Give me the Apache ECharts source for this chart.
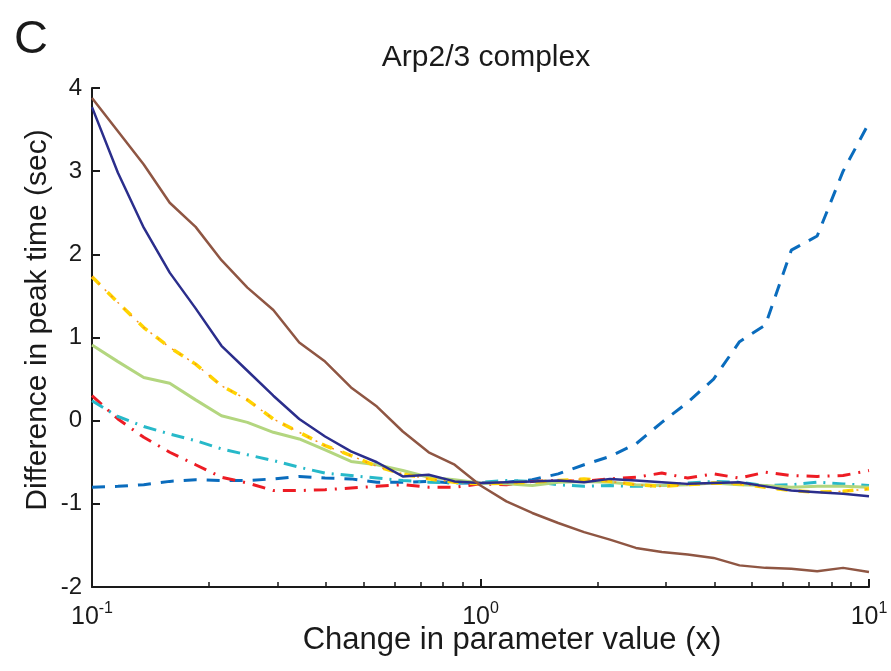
<!DOCTYPE html>
<html>
<head>
<meta charset="utf-8">
<script src="https://cdn.jsdelivr.net/npm/echarts@6/dist/echarts.min.js"></script>
<style>html,body{margin:0;padding:0;background:#fff}#c{width:891px;height:671px}</style>
</head>
<body>
<div id="c"></div>
<script>
// x: change in parameter value (log-spaced)
var xValues = [0.1,0.1166,0.1359,0.1585,0.1848,0.2154,0.2512,0.2929,0.3415,0.3981,0.4642,0.5412,0.6310,0.7356,0.8577,1.0,1.166,1.359,1.585,1.848,2.154,2.512,2.929,3.415,3.981,4.642,5.412,6.310,7.356,8.577,10];
var brown  = [3.88,3.48,3.08,2.62,2.33,1.93,1.60,1.33,0.94,0.71,0.40,0.17,-0.13,-0.38,-0.53,-0.78,-0.97,-1.11,-1.23,-1.34,-1.43,-1.53,-1.58,-1.61,-1.65,-1.74,-1.77,-1.78,-1.81,-1.77,-1.82];
var navy   = [3.77,2.98,2.32,1.78,1.35,0.90,0.60,0.30,0.02,-0.19,-0.37,-0.50,-0.67,-0.65,-0.73,-0.75,-0.74,-0.73,-0.72,-0.74,-0.70,-0.72,-0.74,-0.76,-0.75,-0.74,-0.79,-0.84,-0.86,-0.88,-0.91];
var yellow = [1.73,1.42,1.12,0.88,0.68,0.42,0.25,0.02,-0.14,-0.30,-0.42,-0.55,-0.64,-0.70,-0.74,-0.76,-0.75,-0.74,-0.72,-0.70,-0.73,-0.77,-0.79,-0.77,-0.75,-0.76,-0.80,-0.84,-0.86,-0.85,-0.82];
var green  = [0.91,0.71,0.52,0.45,0.25,0.06,-0.02,-0.14,-0.22,-0.35,-0.49,-0.53,-0.60,-0.68,-0.71,-0.75,-0.76,-0.78,-0.74,-0.73,-0.74,-0.77,-0.78,-0.77,-0.75,-0.77,-0.78,-0.80,-0.79,-0.79,-0.80];
var cyan   = [0.24,0.05,-0.07,-0.16,-0.24,-0.34,-0.41,-0.48,-0.56,-0.63,-0.66,-0.69,-0.72,-0.74,-0.75,-0.74,-0.72,-0.73,-0.77,-0.79,-0.78,-0.79,-0.78,-0.75,-0.73,-0.74,-0.78,-0.77,-0.74,-0.76,-0.78];
var red    = [0.30,0.02,-0.20,-0.38,-0.53,-0.68,-0.75,-0.84,-0.84,-0.83,-0.81,-0.79,-0.77,-0.80,-0.80,-0.76,-0.77,-0.73,-0.72,-0.73,-0.70,-0.68,-0.63,-0.69,-0.64,-0.69,-0.62,-0.66,-0.67,-0.66,-0.60];
var blue   = [-0.80,-0.79,-0.77,-0.73,-0.71,-0.72,-0.72,-0.70,-0.67,-0.69,-0.70,-0.74,-0.74,-0.73,-0.75,-0.75,-0.74,-0.71,-0.64,-0.53,-0.43,-0.28,-0.02,0.22,0.50,0.95,1.15,2.05,2.22,3.00,3.58];
var yTicks = [-2,-1,0,1,2,3,4];
var xMajor = [0.1,1,10];
var xMinor = [0.2,0.3,0.4,0.5,0.6,0.7,0.8,0.9,2,3,4,5,6,7,8,9];

function pairs(ys){ return xValues.map(function(x,i){ return [x, ys[i]]; }); }
var FONT = 'Liberation Sans, Arial, Helvetica, sans-serif';
var supMap = {0.1:'-1', 1:'0', 10:'1'};

function line(name, data, color, width, type, z){
  return {name:name, type:'line', data:pairs(data), showSymbol:false, symbol:'none',
    xAxisIndex:0, z:z||2, animation:false,
    lineStyle:{color:color, width:width, type:type, cap:'butt'}};
}

var chart = echarts.init(document.getElementById('c'), null, {renderer:'canvas'});
chart.setOption({
  backgroundColor:'#fff',
  animation:false,
  grid:{left:92, right:22, top:88, bottom:84, containLabel:false},
  xAxis:[{
    type:'log', logBase:10, min:0.1, max:10,
    axisLine:{show:true, onZero:false, lineStyle:{color:'#1a1a1a', width:2}},
    axisTick:{show:true, inside:true, length:8, lineStyle:{color:'#1a1a1a', width:2}, customValues:xMajor},
    axisLabel:{show:true, margin:14, customValues:xMajor,
      formatter:function(v){ var k = supMap[v]; if(k===undefined){k = String(Math.round(Math.log10(v)));} return '{b|10}{s|' + k + '}'; },
      rich:{b:{fontSize:25, fontFamily:FONT, color:'#1a1a1a'}, s:{fontSize:16, fontFamily:FONT, color:'#1a1a1a', padding:[0,0,17,0]}}},
    splitLine:{show:false}
  },{
    type:'log', logBase:10, min:0.1, max:10, position:'bottom',
    axisLine:{show:false, onZero:false},
    axisTick:{show:true, inside:true, length:5, lineStyle:{color:'#1a1a1a', width:1.5}, customValues:xMinor},
    axisLabel:{show:false},
    splitLine:{show:false}
  }],
  yAxis:{
    type:'value', min:-2, max:4, interval:1,
    axisLine:{show:true, onZero:false, lineStyle:{color:'#1a1a1a', width:2}},
    axisTick:{show:true, inside:true, length:8, lineStyle:{color:'#1a1a1a', width:2}},
    axisLabel:{fontSize:24, fontFamily:FONT, color:'#1a1a1a', margin:10, customValues:yTicks},
    splitLine:{show:false}
  },
  graphic:[
    {type:'text', left:14, top:17, style:{text:'C', font:'47px ' + FONT, fill:'#1a1a1a'}},
    {type:'text', x:486, y:58, style:{text:'Arp2/3 complex', font:'30px ' + FONT, fill:'#1a1a1a', textAlign:'center', textVerticalAlign:'middle'}},
    {type:'text', x:512, y:640, style:{text:'Change in parameter value (x)', font:'31px ' + FONT, fill:'#1a1a1a', textAlign:'center', textVerticalAlign:'middle'}},
    {type:'text', x:38, y:320, rotation:Math.PI/2, style:{text:'Difference in peak time (sec)', font:'30px ' + FONT, fill:'#1a1a1a', textAlign:'center', textVerticalAlign:'middle'}}
  ],
  series:[
    line('blue dashed', blue, '#0a6cbd', 3, [13,10], 2),
    line('red dash-dot', red, '#ed1c24', 3, [13,8,2,8], 3),
    line('cyan dash-dot', cyan, '#27b9c9', 3, [13,7,2,7], 4),
    line('green', green, '#b3d67f', 3, 'solid', 5),
    line('yellow dashed', yellow, '#ffd400', 3.5, [11,11], 6),
    line('orange dotted', yellow, '#f7941d', 1.5, [2,7], 7),
    line('navy', navy, '#2b2e8c', 2.5, 'solid', 8),
    line('brown', brown, '#8f5643', 2.5, 'solid', 9)
  ]
});
</script>
</body>
</html>
